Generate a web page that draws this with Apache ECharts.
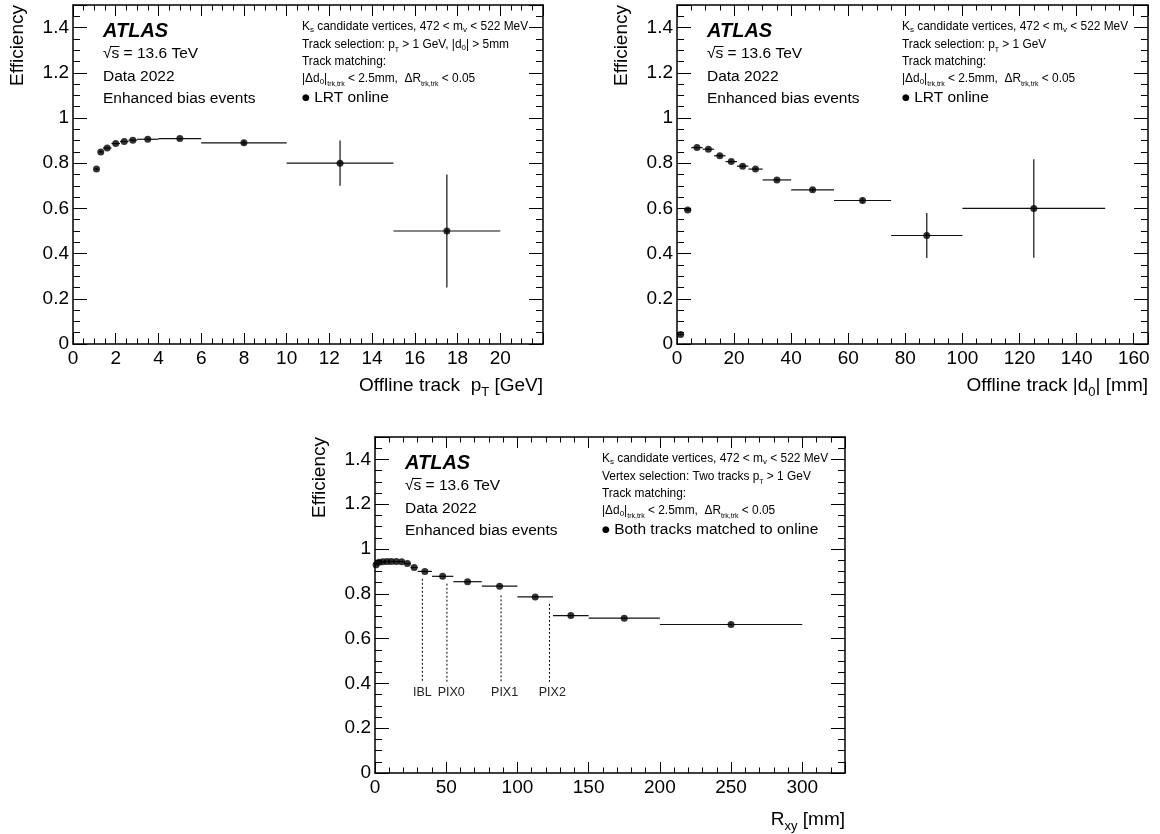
<!DOCTYPE html>
<html><head><meta charset="utf-8">
<script src="https://cdn.jsdelivr.net/npm/echarts@6/dist/echarts.min.js"></script>
<style>html,body{margin:0;padding:0;background:#fff}#c{width:1160px;height:834px}</style>
</head><body><div id="c"></div>
<script>
// ---------- data ----------
const ptLow  = [1.0, 1.2, 1.4, 1.8, 2.2, 2.6, 3, 4, 6, 10, 15];
const ptHigh = [1.2, 1.4, 1.8, 2.2, 2.6, 3, 4, 6, 10, 15, 20];
const ptEff  = [0.774, 0.850, 0.867, 0.887, 0.896, 0.902, 0.906, 0.909, 0.890, 0.800, 0.500];
const ptErr  = [0.005, 0.004, 0.004, 0.003, 0.003, 0.003, 0.003, 0.004, 0.012, 0.100, 0.250];

const d0Low  = [0, 2.5, 5, 9, 13, 17, 21, 25, 30, 40, 55, 75, 100];
const d0High = [2.5, 5, 9, 13, 17, 21, 25, 30, 40, 55, 75, 100, 150];
const d0Eff  = [0.042, 0.593, 0.869, 0.862, 0.833, 0.807, 0.787, 0.774, 0.726, 0.682, 0.635, 0.480, 0.600];
const d0Err  = [0.004, 0.006, 0.005, 0.005, 0.005, 0.005, 0.006, 0.006, 0.006, 0.008, 0.012, 0.100, 0.218];

const rLow  = [0, 1.5, 4, 7, 10, 13, 17, 20.5, 25, 30, 40, 55, 75, 100, 125, 150, 200];
const rHigh = [1.5, 4, 7, 10, 13, 17, 20.5, 25, 30, 40, 55, 75, 100, 125, 150, 200, 300];
const rEff  = [0.930, 0.941, 0.943, 0.944, 0.944, 0.944, 0.943, 0.935, 0.917, 0.900, 0.878, 0.854, 0.834, 0.786, 0.703, 0.691, 0.663];
const rErr  = [0.003, 0.002, 0.002, 0.002, 0.002, 0.002, 0.002, 0.002, 0.002, 0.002, 0.002, 0.003, 0.003, 0.003, 0.004, 0.004, 0.004];

const layerNames  = ['IBL', 'PIX0', 'PIX1', 'PIX2'];
const layerR      = [33.25, 50.5, 88.5, 122.5];
const layerTop    = [0.867, 0.845, 0.793, 0.755];
const layerBottom = [0.404, 0.404, 0.404, 0.404];
const layerLabelX = [33.25, 53.5, 91, 124.5];
const layerLabelY = [0.360, 0.360, 0.360, 0.360];

const effTicks = [0, 0.2, 0.4, 0.6, 0.8, 1, 1.2, 1.4];
const ptTicks  = [0, 2, 4, 6, 8, 10, 12, 14, 16, 18, 20];
const d0Ticks  = [0, 20, 40, 60, 80, 100, 120, 140, 160];
const rTicks   = [0, 50, 100, 150, 200, 250, 300];

// ---------- helpers ----------
const FONT = '"Liberation Sans", Arial, Helvetica, sans-serif';
function tickFmt(list) {
  return v => list.some(t => Math.abs(t - v) < 1e-6) ? String(+(+v).toFixed(3)) : '';
}
function xAx(grid, min, max, interval, minor, ticks, primary, name) {
  const a = {
    type: 'value', gridIndex: grid, position: primary ? 'bottom' : 'top',
    min: min, max: max, interval: interval,
    axisLine: { show: true, onZero: false, lineStyle: { color: '#000', width: 1.5 } },
    axisTick: { show: true, inside: true, length: 11, lineStyle: { color: '#000', width: 1 } },
    minorTick: { show: true, splitNumber: minor, length: 5.5, lineStyle: { color: '#000', width: 1 } },
    axisLabel: { show: primary, formatter: tickFmt(ticks), fontSize: 19, color: '#000', fontFamily: FONT, margin: 5 },
    splitLine: { show: false }, minorSplitLine: { show: false }
  };
  if (primary && name) {
    a.name = name.text;
    a.nameLocation = 'end';
    a.nameGap = 0;
    a.nameMoveOverlap = false;
    a.nameTextStyle = {
      fontSize: 19, fontFamily: FONT, color: '#000', align: 'right', verticalAlign: 'top',
      padding: [name.pad, 0, 0, 0],
      rich: { s: { fontSize: 13, fontFamily: FONT, color: '#000', padding: [14, 0, 0, 0] } }
    };
  }
  return a;
}
function yAx(grid, primary) {
  return {
    type: 'value', gridIndex: grid, position: primary ? 'left' : 'right',
    min: 0, max: 1.5, interval: 0.2,
    axisLine: { show: true, onZero: false, lineStyle: { color: '#000', width: 1.5 } },
    axisTick: { show: true, inside: true, length: 14, lineStyle: { color: '#000', width: 1 } },
    minorTick: { show: true, splitNumber: 4, length: 7, lineStyle: { color: '#000', width: 1 } },
    axisLabel: { show: primary, formatter: tickFmt(effTicks), fontSize: 19, color: '#000', fontFamily: FONT, margin: 4 },
    splitLine: { show: false }, minorSplitLine: { show: false }
  };
}
function errSeries(ai, lo, hi, eff, err) {
  return {
    type: 'custom', xAxisIndex: ai, yAxisIndex: ai, silent: true, z: 2,
    data: lo.map((l, i) => [l, hi[i], eff[i], err[i]]),
    encode: { x: [0, 1], y: 2 },
    renderItem: (p, api) => {
      const l = api.value(0), h = api.value(1), y = api.value(2), e = api.value(3);
      const c = (l + h) / 2;
      const a = api.coord([l, y]), b = api.coord([h, y]);
      const t = api.coord([c, y + e]), u = api.coord([c, y - e]);
      const st = { stroke: '#111', lineWidth: 1.2 };
      return { type: 'group', children: [
        { type: 'line', shape: { x1: a[0], y1: a[1], x2: b[0], y2: b[1] }, style: st },
        { type: 'line', shape: { x1: t[0], y1: t[1], x2: u[0], y2: u[1] }, style: st }
      ] };
    }
  };
}
function ptSeries(ai, lo, hi, eff) {
  return {
    type: 'scatter', xAxisIndex: ai, yAxisIndex: ai, silent: true, z: 3,
    data: lo.map((l, i) => [(l + hi[i]) / 2, eff[i]]),
    symbol: 'circle', symbolSize: 7, itemStyle: { color: '#000' }
  };
}

const panes = [
  { gx: 73,  gy: 5,   gw: 470, gh: 339, rx: 302 },
  { gx: 677, gy: 5,   gw: 471, gh: 339, rx: 902 },
  { gx: 375, gy: 437, gw: 470, gh: 336, rx: 602 }
];
const small = {
  s: { fontSize: 8, fontFamily: FONT, fill: '#000', padding: [6, 0, 0, 0] },
  t: { fontSize: 7, fontFamily: FONT, fill: '#000', padding: [10, 0, 0, 0] }
};
const rightLines = [
  ['K{s|s} candidate vertices, 472 < m{s|v} < 522 MeV',
   'Track selection: p{t|T} > 1 GeV, |d{s|0}| > 5mm',
   'Track matching:',
   '|Δd{s|0}|{t|trk,trk} < 2.5mm,  ΔR{t|trk,trk} < 0.05',
   '{d|●} LRT online'],
  ['K{s|s} candidate vertices, 472 < m{s|v} < 522 MeV',
   'Track selection: p{t|T} > 1 GeV',
   'Track matching:',
   '|Δd{s|0}|{t|trk,trk} < 2.5mm,  ΔR{t|trk,trk} < 0.05',
   '{d|●} LRT online'],
  ['K{s|s} candidate vertices, 472 < m{s|v} < 522 MeV',
   'Vertex selection: Two tracks p{t|T} > 1 GeV',
   'Track matching:',
   '|Δd{s|0}|{t|trk,trk} < 2.5mm,  ΔR{t|trk,trk} < 0.05',
   '{d|●} Both tracks matched to online']
];
const leftLines = ['√s = 13.6 TeV', 'Data 2022', 'Enhanced bias events'];

const graphic = [];
panes.forEach((p, k) => {
  graphic.push({ type: 'text', x: p.gx + 30, y: p.gy + 26, silent: true,
    style: { text: 'ATLAS', fontSize: 20, fontWeight: 'bold', fontStyle: 'italic', fontFamily: FONT, fill: '#000', verticalAlign: 'middle' } });
  leftLines.forEach((s, i) => {
    graphic.push({ type: 'text', x: p.gx + 30, y: p.gy + 49 + 22.5 * i, silent: true,
      style: { text: s, fontSize: 15.5, fontFamily: FONT, fill: '#000', verticalAlign: 'middle' } });
  });
  // overline of the square root over "s"
  graphic.push({ type: 'line', silent: true,
    shape: { x1: p.gx + 37.5, y1: p.gy + 49 - 7.5, x2: p.gx + 46.5, y2: p.gy + 49 - 7.5 },
    style: { stroke: '#000', lineWidth: 1 } });
  const ys = [22, 40, 57, 74, 93];
  rightLines[k].forEach((s, i) => {
    const big = i === 4;
    graphic.push({ type: 'text', x: p.rx, y: p.gy + ys[i], silent: true,
      style: { text: s, fontSize: big ? 15.5 : 11.9, fontFamily: FONT, fill: '#000', verticalAlign: 'middle',
        rich: Object.assign({ d: { fontSize: 9, fontFamily: '"DejaVu Sans", sans-serif', fill: '#000' } }, small) } });
  });
  graphic.push({ type: 'text', x: p.gx - 55, y: p.gy, rotation: Math.PI / 2, silent: true,
    style: { text: 'Efficiency', fontSize: 19, fontFamily: FONT, fill: '#000', align: 'right', verticalAlign: 'middle' } });
});

const option = {
  backgroundColor: '#fff',
  animation: false,
  grid: panes.map(p => ({ left: p.gx, top: p.gy, width: p.gw, height: p.gh, containLabel: false, outerBoundsMode: 'none' })),
  xAxis: [
    xAx(0, 0, 22, 2, 4, ptTicks, true, { text: 'Offline track  p{s|T} [GeV]', pad: 28 }),
    xAx(0, 0, 22, 2, 4, ptTicks, false),
    xAx(1, 0, 165, 20, 4, d0Ticks, true, { text: 'Offline track |d{s|0}| [mm]', pad: 28 }),
    xAx(1, 0, 165, 20, 4, d0Ticks, false),
    xAx(2, 0, 330, 50, 5, rTicks, true, { text: 'R{s|xy} [mm]', pad: 33 }),
    xAx(2, 0, 330, 50, 5, rTicks, false)
  ],
  yAxis: [yAx(0, true), yAx(0, false), yAx(1, true), yAx(1, false), yAx(2, true), yAx(2, false)],
  graphic: graphic,
  series: [
    errSeries(0, ptLow, ptHigh, ptEff, ptErr), ptSeries(0, ptLow, ptHigh, ptEff),
    errSeries(2, d0Low, d0High, d0Eff, d0Err), ptSeries(2, d0Low, d0High, d0Eff),
    errSeries(4, rLow, rHigh, rEff, rErr), ptSeries(4, rLow, rHigh, rEff),
    {
      type: 'custom', xAxisIndex: 4, yAxisIndex: 4, silent: true, z: 1,
      data: layerNames.map((n, i) => [layerR[i], layerTop[i], layerBottom[i], layerLabelX[i], layerLabelY[i]]),
      encode: { x: 0, y: 1 },
      renderItem: (p, api) => {
        const a = api.coord([api.value(0), api.value(1)]);
        const b = api.coord([api.value(0), api.value(2)]);
        const t = api.coord([api.value(3), api.value(4)]);
        return { type: 'group', children: [
          { type: 'line', shape: { x1: a[0], y1: a[1], x2: b[0], y2: b[1] }, style: { stroke: '#000', lineWidth: 1, lineDash: [2, 2] } },
          { type: 'text', x: t[0], y: t[1], style: { text: layerNames[p.dataIndex], fontSize: 12.5, fontFamily: FONT, fill: '#222', align: 'center', verticalAlign: 'middle' } }
        ] };
      }
    }
  ]
};
const chart = echarts.init(document.getElementById('c'), null, { renderer: 'canvas' });
chart.setOption(option);
</script>
</body></html>
